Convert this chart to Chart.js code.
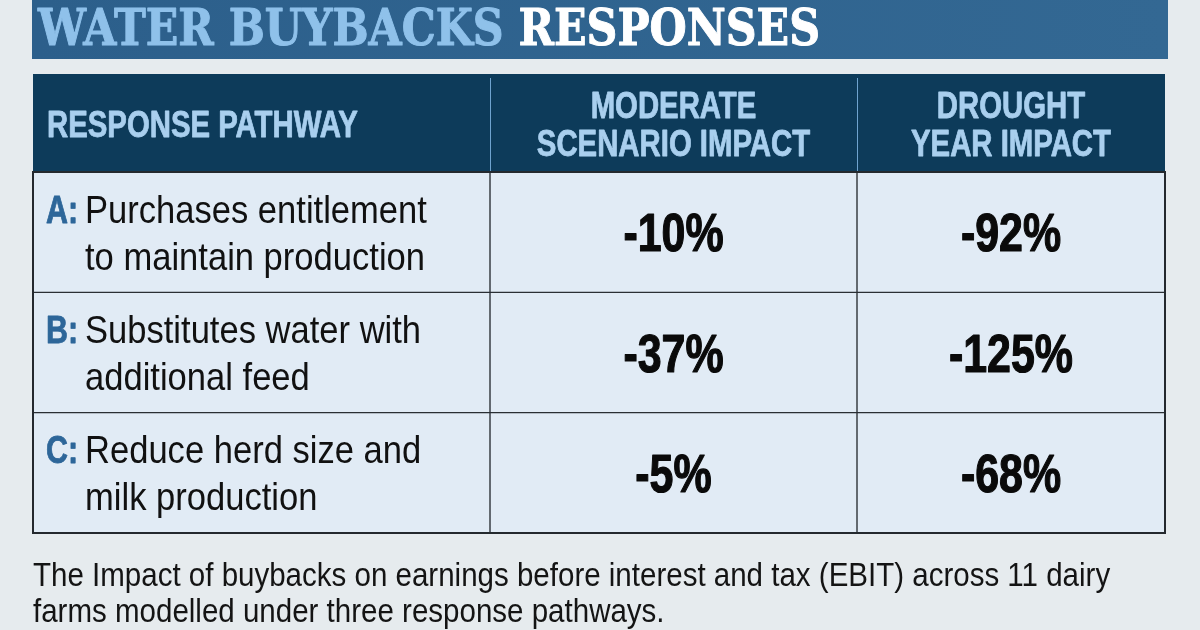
<!DOCTYPE html>
<html>
<head>
<meta charset="utf-8">
<script src="https://cdn.jsdelivr.net/npm/chart.js@4.4.1/dist/chart.umd.min.js"></script>
<style>
  html, body { margin: 0; padding: 0; background: #e6ebee; }
  #wrap { width: 1200px; height: 630px; }
</style>
</head>
<body>
<div id="wrap"><canvas id="buybackTable" width="1200" height="630"></canvas></div>
<script>
// table content
const pathwayLetters = ['A', 'B', 'C'];
const pathwayText = [
    ['Purchases entitlement', 'to maintain production'],
    ['Substitutes water with', 'additional feed'],
    ['Reduce herd size and', 'milk production']
];
const columnHeaders = [
    ['RESPONSE PATHWAY'],
    ['MODERATE', 'SCENARIO IMPACT'],
    ['DROUGHT', 'YEAR IMPACT']
];
const moderateImpact = [-10, -37, -5];   // % change in EBIT
const droughtImpact = [-92, -125, -68];  // % change in EBIT

const titleLight = 'WATER BUYBACKS';
const titleWhite = 'RESPONSES';
const captionLines = [
    'The Impact of buybacks on earnings before interest and tax (EBIT) across 11 dairy',
    'farms modelled under three response pathways.'
];

// layout: column edges as fraction of table width
const colEdges = [0, 0.4037, 0.7279, 1];

const SANS = '"Liberation Sans", Arial, sans-serif';
const SERIF = '"DejaVu Serif", serif';

// draws text squeezed horizontally (condensed look), optional stroke for extra weight
function squeezeText(ctx, text, x, y, font, color, align, sx, weight) {
    ctx.save();
    ctx.font = font;
    ctx.fillStyle = color;
    ctx.textAlign = align;
    ctx.textBaseline = 'alphabetic';
    ctx.translate(x, y);
    ctx.scale(sx, 1);
    ctx.fillText(text, 0, 0);
    if (weight) {
        ctx.strokeStyle = color;
        ctx.lineWidth = weight;
        ctx.lineJoin = 'round';
        ctx.strokeText(text, 0, 0);
    }
    ctx.restore();
}

const tablePlugin = {
    id: 'tablePlugin',
    beforeDraw(chart) {
        const ctx = chart.ctx;
        // page + title banner
        ctx.save();
        ctx.fillStyle = '#e6ebee';
        ctx.fillRect(0, 0, chart.width, chart.height);
        const grad = ctx.createLinearGradient(32, 0, 1168, 0);
        grad.addColorStop(0, '#2c5f8b');
        grad.addColorStop(1, '#336893');
        ctx.fillStyle = grad;
        ctx.fillRect(32, 0, 1136, 59);

        const tfont = 'bold 50px ' + SERIF;
        ctx.font = tfont;
        const wl = ctx.measureText(titleLight + ' ').width;
        const wt = ctx.measureText(titleLight + ' ' + titleWhite).width;
        const tsx = 782 / wt;
        squeezeText(ctx, titleLight, 38, 45, tfont, '#8fc1ea', 'left', tsx, 1);
        squeezeText(ctx, titleWhite, 38 + wl * tsx, 45, tfont, '#ffffff', 'left', tsx, 1);
        ctx.restore();
    },
    afterDatasetsDraw(chart) {
        const ctx = chart.ctx;
        const xs = chart.scales.x;
        const ys = chart.scales.y;
        const area = chart.chartArea;
        const headTop = 74;

        // header band
        ctx.save();
        ctx.fillStyle = '#0d3b5a';
        ctx.fillRect(area.left, headTop, area.right - area.left, area.top - headTop);
        ctx.strokeStyle = '#6fa3cf';
        ctx.lineWidth = 1;
        for (let i = 1; i < colEdges.length - 1; i++) {
            const px = Math.round(xs.getPixelForValue(colEdges[i])) + 0.5;
            ctx.beginPath();
            ctx.moveTo(px, headTop + 4);
            ctx.lineTo(px, area.top);
            ctx.stroke();
        }

        // outer frame
        ctx.strokeStyle = '#24292e';
        ctx.lineWidth = 2;
        ctx.strokeRect(area.left, area.top, area.right - area.left, area.bottom - area.top);

        // header labels
        const hfont = 'bold 36px ' + SANS;
        const hColor = '#a9cfee';
        const headMid = (headTop + area.top) / 2 + 1;
        columnHeaders.forEach(function(lines, c) {
            const n = lines.length;
            lines.forEach(function(line, k) {
                const y = headMid + (k - (n - 1) / 2) * 38 + 13;
                if (c === 0) {
                    squeezeText(ctx, line, xs.getPixelForValue(colEdges[0]) + 14, y, hfont, hColor, 'left', 0.815, 0.8);
                } else {
                    const cx = xs.getPixelForValue((colEdges[c] + colEdges[c + 1]) / 2);
                    squeezeText(ctx, line, cx, y, hfont, hColor, 'center', 0.815, 0.8);
                }
            });
        });

        // body rows
        const bodyFont = '39px ' + SANS;
        const letterFont = 'bold 39px ' + SANS;
        const valueFont = 'bold 53px ' + SANS;
        const left = xs.getPixelForValue(colEdges[0]);
        pathwayLetters.forEach(function(letter, r) {
            const cy = ys.getPixelForValue(r);
            const lines = pathwayText[r];
            lines.forEach(function(line, k) {
                const y = cy + (k - (lines.length - 1) / 2) * 47 + 14;
                if (k === 0) {
                    squeezeText(ctx, letter + ':', left + 13, y, letterFont, '#2d6699', 'left', 0.78, 0.8);
                }
                squeezeText(ctx, line, left + 52, y, bodyFont, '#111111', 'left', 0.886);
            });
            const cols = [moderateImpact[r], droughtImpact[r]];
            cols.forEach(function(v, j) {
                const cx = xs.getPixelForValue((colEdges[j + 1] + colEdges[j + 2]) / 2);
                squeezeText(ctx, v + '%', cx, cy + 19, valueFont, '#0a0a0a', 'center', 0.81, 1.2);
            });
        });

        // caption
        captionLines.forEach(function(line, k) {
            squeezeText(ctx, line, 33, 586 + k * 36, '34px ' + SANS, '#141414', 'left', 0.868);
        });
        ctx.restore();
    }
};

document.addEventListener('DOMContentLoaded', function() {
    const ctx = document.getElementById('buybackTable').getContext('2d');

    // one floating bar per cell, spanning its column
    const datasets = columnHeaders.map(function(h, c) {
        return {
            label: h.join(' '),
            data: pathwayLetters.map(function() { return [colEdges[c], colEdges[c + 1]]; }),
            backgroundColor: '#e1ebf5',
            borderColor: '#2a2f34',
            borderWidth: 1,
            borderSkipped: false,
            grouped: false,
            barPercentage: 1,
            categoryPercentage: 1
        };
    });

    new Chart(ctx, {
        type: 'bar',
        data: { labels: pathwayLetters, datasets: datasets },
        options: {
            indexAxis: 'y',
            responsive: false,
            animation: false,
            events: [],
            layout: { padding: { left: 33, right: 35, top: 172, bottom: 97 } },
            plugins: { legend: { display: false }, tooltip: { enabled: false } },
            scales: {
                x: { type: 'linear', min: 0, max: 1, display: false },
                y: { type: 'category', display: false, offset: true }
            }
        },
        plugins: [tablePlugin]
    });
});
</script>
</body>
</html>
